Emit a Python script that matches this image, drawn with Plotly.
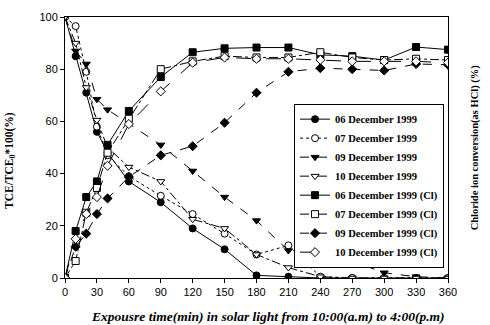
import plotly.graph_objects as go

times = [0, 10, 20, 30, 40, 60, 90, 120, 150, 180, 210, 240, 270, 300, 330, 360]
x_ticks = [0, 30, 60, 90, 120, 150, 180, 210, 240, 270, 300, 330, 360]
y_ticks = [0, 20, 40, 60, 80, 100]

# TCE/TCE0*100 (%)
tce_0612 = [100, 85, 71, 56, 48, 37, 29, 19, 11, 1, 0.5, 0, 0, 0, 0, 0]
tce_0712 = [100, 96.5, 79, 58, 47, 39, 31.5, 24.5, 17, 9, 12.5, 0.5, 0, 0, 0, 0]
tce_0912 = [100, 87, 82, 68.5, 64.5, None, 51, 41, 31, 22, 10.5, 6.5, 6.5, 2, 0.5, 0]
tce_1012 = [100, 90, 73, 60.5, 50, 42.5, 37, 22.5, 19, 9, 4, 0.5, 0, 0, 0, 0]

# Chloride ion conversion (as HCl) (%)
cl_0612 = [0, 18, 31, 37, 51, 64, 77, 86.5, 88, 88.3, 88.3, 85.5, 85, 83.5, 88.5, 87.5]
cl_0712 = [0, 6.5, 25, 34.5, 48, 61, 80, 83, 85, 84.5, 84.5, 86.5, 84.5, 83.5, 84, 83.5]
cl_0912 = [0, 12, 17, 24.5, 30.5, 38.7, 47, 50.5, 59.5, 71, 79, 80.4, 80, 79.5, 82, 81.7]
cl_1012 = [0, 15, 24.5, 31, 43, 59, 71.5, 82.5, 84.5, 84, 84, 83.6, 83, 83, 83, 82.5]

names = ["06 December 1999", "07 December 1999", "09 December 1999", "10 December 1999",
         "06 December 1999 (Cl)", "07 December 1999 (Cl)", "09 December 1999 (Cl)", "10 December 1999 (Cl)"]

series = [
    (tce_0612, "circle", "black", "solid", "y"),
    (tce_0712, "circle", "white", "dot", "y"),
    (tce_0912, "triangle-down", "black", "dash", "y"),
    (tce_1012, "triangle-down", "white", "dashdot", "y"),
    (cl_0612, "square", "black", "solid", "y2"),
    (cl_0712, "square", "white", "dashdot", "y2"),
    (cl_0912, "diamond", "black", "dash", "y2"),
    (cl_1012, "diamond", "white", "longdash", "y2"),
]

fig = go.Figure()
for name, (vals, sym, fill, dash, yax) in zip(names, series):
    fig.add_trace(go.Scatter(
        x=times, y=vals, name=name, yaxis=yax, mode="lines+markers",
        connectgaps=True,
        line=dict(color="black", width=1, dash=dash),
        marker=dict(symbol=sym, size=7, color=fill, line=dict(color="black", width=1)),
    ))

axis_font = dict(family="Liberation Sans, Arial, sans-serif", size=11, color="black")
fig.update_layout(
    width=490, height=325,
    margin=dict(l=65, r=42, t=11, b=47),
    plot_bgcolor="white", paper_bgcolor="white",
    showlegend=True,
    legend=dict(
        x=0.598, y=0.668, xanchor="left", yanchor="top",
        bgcolor="white", bordercolor="black", borderwidth=1,
        font=dict(family="Liberation Serif, Times New Roman, serif", size=10.5, color="black", weight="bold"),
        itemwidth=30, tracegroupgap=0,
    ),
    xaxis=dict(
        range=[0, 360], tickvals=x_ticks, ticks="outside", ticklen=4, tickcolor="black",
        showline=True, linecolor="black", linewidth=1, mirror=True, showgrid=False, zeroline=False,
        tickfont=axis_font,
    ),
    yaxis=dict(
        range=[0, 100], tickvals=y_ticks, ticks="outside", ticklen=4, tickcolor="black",
        showline=True, linecolor="black", linewidth=1, mirror=True, showgrid=False, zeroline=False,
        tickfont=axis_font,
    ),
    yaxis2=dict(
        range=[0, 100], overlaying="y", side="right", showticklabels=False, showgrid=False,
        zeroline=False, ticks="",
    ),
    annotations=[
        dict(text="<b><i>Expousre time(min) in solar light from 10:00(a.m) to 4:00(p.m)</i></b>",
             xref="paper", yref="paper", x=0.53, y=-0.11, xanchor="center", yanchor="top",
             showarrow=False, font=dict(family="Liberation Serif, serif", size=13.5, color="black")),
        dict(text="<b>TCE/TCE<sub>0</sub>*100(%)</b>",
             xref="paper", yref="paper", x=-0.145, y=0.45, xanchor="center", yanchor="middle",
             textangle=-90, showarrow=False,
             font=dict(family="Liberation Serif, serif", size=11.5, color="black")),
        dict(text="<b>Chloride ion conversion(as HCl) (%)</b>",
             xref="paper", yref="paper", x=1.07, y=0.5, xanchor="center", yanchor="middle",
             textangle=-90, showarrow=False,
             font=dict(family="Liberation Serif, serif", size=10.5, color="black")),
    ],
)

fig.write_html("out.html")
